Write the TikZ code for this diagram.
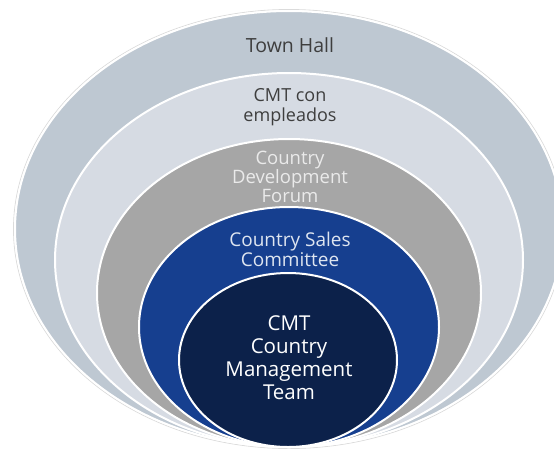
\documentclass[tikz,border=0pt]{standalone}
\usepackage{fontspec}
\setmainfont{Open Sans}
\definecolor{ringA}{RGB}{190,200,210}
\definecolor{ringB}{RGB}{214,219,227}
\definecolor{ringC}{RGB}{166,166,166}
\definecolor{ringD}{RGB}{22,63,143}
\definecolor{ringE}{RGB}{12,33,74}
\definecolor{txtdark}{RGB}{62,62,62}
\definecolor{txtgray}{RGB}{234,234,234}
\definecolor{txtblue}{RGB}{222,229,240}
\tikzset{
  ring/.style={draw=white, line width=2pt},
  halo/.style={draw=black!14, line width=0.8pt},
  lbl/.style={align=center, inner sep=0pt, font=\fontsize{18}{19.5}\selectfont},
}
\begin{document}
\begin{tikzpicture}[x=1pt,y=-1pt]
\useasboundingbox (0,0) rectangle (554,451);
\fill[white] (0,0) rectangle (554,451);
% rings
\draw[halo] (289,229) ellipse [x radius=275.5pt, y radius=219.5pt];
\fill[ringA, ring] (289,229) ellipse [x radius=274pt, y radius=218pt];
\fill[ringB, ring] (289,260) ellipse [x radius=234pt, y radius=187pt];
\fill[ringC, ring] (289,293) ellipse [x radius=192pt, y radius=154pt];
\fill[ringD, ring] (289,327) ellipse [x radius=150pt, y radius=120pt];
\fill[ringE, ring] (288,360) ellipse [x radius=109pt, y radius=87pt];
% labels
\node[lbl, text=txtdark, font=\fontsize{19.5}{21}\selectfont] (town) at (290,45) {Town Hall};
\node[lbl, text=txtdark] (emp) at (290,107) {CMT con\\empleados};
\node[lbl, text=txtgray, font=\fontsize{18.5}{19}\selectfont] (cdf) at (290,177) {Country\\Development\\Forum};
\node[lbl, text=txtblue, font=\fontsize{19}{20}\selectfont] (csc) at (290,249) {Country Sales\\Committee};
\node[lbl, text=white, font=\fontsize{20.5}{23}\selectfont] (cmt) at (289,358) {CMT\\Country\\Management\\Team};
\end{tikzpicture}
\end{document}
